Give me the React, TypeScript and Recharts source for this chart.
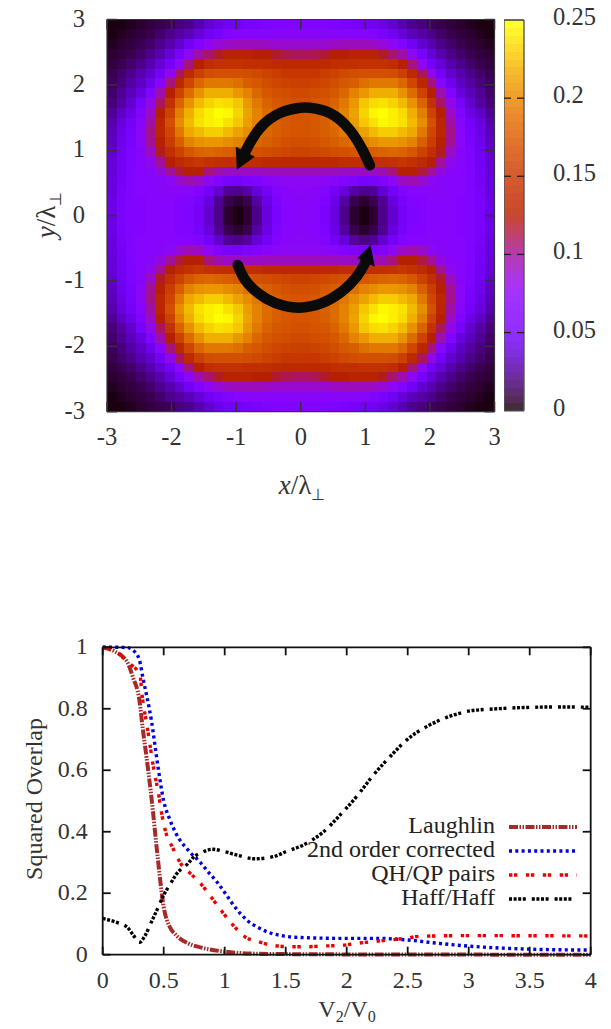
import React from "react";
import { ScatterChart, Scatter, LineChart, Line, XAxis, YAxis, Legend } from "recharts";

// Upper-left quadrant of the density map, in percent of the 0.25 colour range
const quadrantRows: number[][] = [
  [1, 1, 2, 3, 4, 5, 6, 8, 9, 12, 15, 18, 20, 21, 22, 23, 24, 25, 25, 25],
  [1, 2, 3, 4, 5, 7, 9, 11, 13, 16, 20, 23, 25, 27, 28, 28, 28, 28, 28, 28],
  [2, 3, 4, 5, 7, 9, 12, 15, 20, 25, 30, 34, 36, 37, 37, 37, 36, 35, 35, 35],
  [3, 4, 5, 7, 9, 12, 16, 22, 30, 38, 43, 48, 52, 52, 52, 50, 50, 47, 45, 44],
  [4, 5, 7, 9, 12, 16, 21, 30, 42, 50, 56, 58, 58, 58, 57, 57, 56, 55, 55, 55],
  [5, 7, 9, 12, 15, 21, 32, 44, 55, 63, 67, 68, 68, 68, 67, 66, 64, 62, 60, 60],
  [6, 8, 11, 14, 19, 28, 42, 54, 65, 74, 78, 78, 78, 76, 72, 70, 67, 65, 64, 63],
  [7, 10, 13, 17, 25, 38, 50, 64, 75, 83, 88, 88, 88, 84, 80, 74, 70, 68, 67, 66],
  [8, 11, 15, 22, 32, 44, 58, 73, 83, 90, 94, 96, 95, 92, 84, 78, 73, 70, 69, 68],
  [10, 14, 18, 25, 36, 50, 64, 79, 88, 95, 98, 100, 99, 94, 86, 80, 75, 72, 70, 69],
  [12, 17, 21, 27, 39, 53, 68, 82, 90, 96, 98, 99, 96, 92, 85, 80, 75, 72, 70, 69],
  [13, 18, 22, 29, 41, 54, 65, 78, 87, 90, 93, 93, 90, 86, 82, 78, 74, 72, 70, 69],
  [14, 19, 23, 29, 40, 51, 62, 72, 80, 83, 84, 84, 82, 80, 76, 74, 72, 70, 68, 67],
  [15, 20, 24, 28, 36, 48, 57, 64, 70, 73, 74, 73, 72, 70, 69, 68, 67, 66, 65, 64],
  [16, 20, 24, 27, 31, 40, 50, 55, 58, 60, 58, 57, 56, 56, 56, 56, 55, 55, 54, 54],
  [16, 21, 25, 27, 28, 33, 40, 46, 50, 50, 42, 38, 36, 36, 36, 36, 37, 37, 37, 37],
  [17, 21, 25, 27, 27, 28, 30, 35, 38, 36, 30, 26, 23, 22, 24, 26, 28, 29, 30, 30],
  [17, 22, 25, 27, 27, 28, 28, 27, 27, 26, 21, 15, 10, 9, 11, 16, 21, 26, 28, 29],
  [18, 23, 25, 26, 27, 27, 27, 26, 25, 22, 17, 10, 5, 3, 5, 11, 18, 24, 27, 28],
  [18, 23, 25, 26, 27, 27, 27, 26, 24, 21, 15, 9, 3, 1, 3, 9, 17, 23, 27, 28],
];

const colorbarLevels = [
  1, 3, 5, 7, 9, 11, 13, 15, 17, 19, 21, 23, 25, 27, 29, 31, 33, 35, 37, 39, 41, 43, 45, 47, 49,
  51, 53, 55, 57, 59, 61, 63, 65, 67, 69, 71, 73, 75, 77, 79, 81, 83, 85, 87, 89, 91, 93, 95, 97, 99,
];

const arcTop = [
  { x: 1.07, y: 0.77 }, { x: 0.96, y: 1.0 }, { x: 0.76, y: 1.31 }, { x: 0.45, y: 1.57 }, { x: 0.14, y: 1.65 },
  { x: -0.01, y: 1.65 }, { x: -0.32, y: 1.57 }, { x: -0.63, y: 1.34 }, { x: -0.82, y: 1.05 }, { x: -0.88, y: 0.93 },
];
const arcBottom = [
  { x: -0.975, y: -0.755 }, { x: -0.86, y: -0.985 }, { x: -0.656, y: -1.19 }, { x: -0.4, y: -1.336 },
  { x: -0.04, y: -1.408 }, { x: 0.325, y: -1.34 }, { x: 0.635, y: -1.164 }, { x: 0.867, y: -0.934 }, { x: 0.995, y: -0.725 }, { x: 1.03, y: -0.65 },
];
const tipTop = [{ x: -0.99, y: 0.7 }];
const tipBottom = [{ x: 1.08, y: -0.45 }];

const mapTicks = [-3, -2, -1, 0, 1, 2, 3];
const colorTicks = [0, 0.05, 0.1, 0.15, 0.2, 0.25];
const overlapXTicks = [0, 0.5, 1, 1.5, 2, 2.5, 3, 3.5, 4];
const overlapYTicks = [0, 0.2, 0.4, 0.6, 0.8, 1];

const laughlin = [
  [0, 1], [0.1, 0.986], [0.2, 0.953], [0.25, 0.9], [0.3, 0.83], [0.33, 0.73], [0.36, 0.64], [0.4, 0.51], [0.45, 0.32],
  [0.5, 0.155], [0.55, 0.09], [0.6, 0.064], [0.7, 0.037], [0.8, 0.024], [1, 0.01], [1.2, 0.004], [1.5, 0.002], [2, 0.001], [4, 0],
];
const secondOrder = [
  [0, 1], [0.1, 1], [0.2, 0.999], [0.25, 0.99], [0.3, 0.96], [0.33, 0.9], [0.4, 0.76], [0.45, 0.62], [0.5, 0.5], [0.55, 0.44],
  [0.6, 0.395], [0.7, 0.34], [0.8, 0.3], [0.852, 0.275], [0.934, 0.238], [1.016, 0.193], [1.098, 0.148], [1.18, 0.113],
  [1.262, 0.091], [1.344, 0.075], [1.48, 0.061], [1.617, 0.056], [2, 0.053], [2.25, 0.053], [2.5, 0.048], [2.75, 0.037],
  [3, 0.028], [3.5, 0.018], [4, 0.015],
];
const qhQpPairs = [
  [0, 1], [0.1, 0.989], [0.2, 0.953], [0.306, 0.91], [0.32, 0.854], [0.339, 0.8], [0.36, 0.753], [0.4, 0.65], [0.42, 0.6],
  [0.456, 0.528], [0.489, 0.447], [0.516, 0.4], [0.571, 0.35], [0.634, 0.3], [0.73, 0.26], [0.81, 0.228], [0.893, 0.185],
  [0.975, 0.142], [1.06, 0.1], [1.167, 0.058], [1.276, 0.042], [1.4, 0.03], [1.535, 0.026], [1.686, 0.026], [1.78, 0.028],
  [1.95, 0.03], [2.08, 0.037], [2.2, 0.042], [2.35, 0.048], [2.48, 0.053], [2.6, 0.06], [3, 0.062], [4, 0.061],
];
const haffHaff = [
  [0, 0.118], [0.1, 0.107], [0.2, 0.09], [0.25, 0.064], [0.3, 0.04], [0.35, 0.064], [0.4, 0.107], [0.45, 0.15], [0.5, 0.194],
  [0.55, 0.227], [0.6, 0.26], [0.7, 0.297], [0.75, 0.319], [0.8, 0.33], [0.9, 0.343], [1, 0.335], [1.1, 0.324], [1.25, 0.312],
  [1.4, 0.319], [1.5, 0.335], [1.645, 0.357], [1.81, 0.4], [1.945, 0.454], [2.08, 0.514], [2.22, 0.585], [2.355, 0.644],
  [2.49, 0.698], [2.655, 0.742], [2.82, 0.772], [3.01, 0.793], [3.23, 0.8], [3.53, 0.805], [3.75, 0.806], [4, 0.805],
];

const seriesNames = ["Laughlin", "2nd order corrected", "QH/QP pairs", "Haff/Haff"];
const seriesValues = [laughlin, secondOrder, qhQpPairs, haffHaff];
const seriesColors = ["#a52a2a", "#0000e0", "#ee0000", "#000000"];
const seriesDashes = ["9 1.5 1.5 1.5 1.5 1.5", "3 3.3", "3.4 1.6 3.4 8.5", "3 1.6 3 1.6 3 1.6 3 6"];
const seriesWidths = [4, 3.4, 3.4, 3.4];

// ---- derived tables -----
const fullRows = [...quadrantRows, ...[...quadrantRows].reverse()].map((r) => [...r, ...[...r].reverse()]);
const mapCells = fullRows.flatMap((row, i) =>
  row.map((v, j) => ({ x: -3 + (j + 0.5) * 0.15, y: 3 - (i + 0.5) * 0.15, z: v / 100 }))
);
const barCells = colorbarLevels.map((v) => ({ x: 0.5, y: (v / 100) * 0.25, z: v / 100 }));
const toPoints = (arr: number[][]) => arr.map(([x, y]) => ({ x, y }));

const SERIF = "'Liberation Serif', serif";
const INK = "#333";

function palette(t: number): [number, number, number] {
  const r = Math.sqrt(t);
  const g = t * t * t;
  const b = Math.max(0, Math.sin(2 * Math.PI * t));
  return [r * 255, g * 255, b * 255];
}
const rgb = (c: number[]) => `rgb(${c.map((v) => Math.min(255, Math.round(v))).join(",")})`;

const HeatCell = (props: any) => {
  const w = 9.69;
  const h = 9.81;
  return (
    <rect x={props.cx - w / 2} y={props.cy - h / 2} width={w + 0.6} height={h + 0.6}
      fill={rgb(palette(props.payload.z))} shapeRendering="crispEdges" />
  );
};
const BarCell = (props: any) => {
  const w = 20;
  const h = 7.84;
  return (
    <rect x={props.cx - w / 2} y={props.cy - h / 2} width={w} height={h + 0.6}
      fill={rgb(palette(props.payload.z).map((c) => c * 0.85 + 45))} shapeRendering="crispEdges" />
  );
};
const NoDot = () => <g />;
const Tip = (dx1: number, dy1: number, dx2: number, dy2: number) => (props: any) =>
  (
    <polygon points={`${props.cx},${props.cy} ${props.cx + dx1},${props.cy + dy1} ${props.cx + dx2},${props.cy + dy2}`} fill="#0a0a0a" />
  );

type TickOpts = { side: "left" | "right" | "top" | "bottom"; len: number; labels?: boolean; size?: number; stroke?: string; gap?: number; sw?: number };
const makeTick = ({ side, len, labels, size = 24.5, stroke = "#222", gap = 22, sw = 1.5 }: TickOpts) => (props: any) => {
  const { x, y, payload } = props;
  const v = payload.value;
  const inward =
    side === "left" ? { x2: x + len, y2: y } : side === "right" ? { x2: x - len, y2: y } : side === "top" ? { x2: x, y2: y + len } : { x2: x, y2: y - len };
  let text = null;
  if (labels) {
    const base = { fontFamily: SERIF, fontSize: size, fill: INK };
    if (side === "left") text = <text {...base} x={x - gap} y={y + 7} textAnchor="end">{String(v)}</text>;
    if (side === "bottom") text = <text {...base} x={x} y={y + 33} textAnchor="middle">{String(v)}</text>;
  }
  return (
    <g>
      <line x1={x} y1={y} x2={inward.x2} y2={inward.y2} stroke={stroke} strokeWidth={sw} fill="none" />
      {text}
    </g>
  );
};

const ColorTick = (side: "left" | "right") => (props: any) => {
  const { x, y, payload } = props;
  const v = payload.value;
  const interior = v > 0 && v < 0.25;
  return (
    <g>
      {interior && <line x1={x} y1={y} x2={side === "left" ? x + 7 : x - 7} y2={y} stroke="#222" strokeWidth={1.3} />}
      {side === "right" && (
        <text x={x + 29} y={y + 5} fontFamily={SERIF} fontSize={24.5} fill={INK}>{v}</text>
      )}
    </g>
  );
};

const mapTickLeft = makeTick({ side: "left", len: 10, labels: true, stroke: "#333" });
const mapTickRight = makeTick({ side: "right", len: 10, stroke: "#333" });
const mapTickTop = makeTick({ side: "top", len: 10, stroke: "#333" });
const mapTickBottom = makeTick({ side: "bottom", len: 10, labels: true, stroke: "#333" });

const plotTick = (side: TickOpts["side"], labels = false) => makeTick({ side, len: 8, labels, size: 24, stroke: "#111", gap: 15, sw: 1.8 });

const MathLabel = ({ cx, cy, rotate, v }: { cx: number; cy: number; rotate?: boolean; v: string }) => (
  <text transform={rotate ? `rotate(-90 ${cx} ${cy})` : undefined} x={cx} y={cy} textAnchor="middle" fontFamily={SERIF} fontSize={27} fill={INK}>
    <tspan fontStyle="italic">{v}</tspan>
    <tspan>/λ</tspan>
    <tspan fontSize={16} dy={6}>⊥</tspan>
  </text>
);

const LegendBox = (props: any) => {
  const payload: any[] = props.payload || [];
  return (
    <svg width={611} height={429} style={{ display: "block" }}>
      {seriesNames.map((n, i) => {
        const item = payload.find((p) => p.value === n);
        const y = 227 + i * 24;
        return (
          <g key={n}>
            <text x={495} y={y + 6} textAnchor="end" fontFamily={SERIF} fontSize={24} fill="#222">{n}</text>
            <line x1={509} x2={577} y1={y} y2={y} stroke={item ? item.color : seriesColors[i]} strokeWidth={seriesWidths[i]} strokeDasharray={seriesDashes[i]} />
          </g>
        );
      })}
    </svg>
  );
};

const frame = { stroke: "#333", strokeWidth: 1.2 };
const mapMargin = { left: 47, right: 4.5, top: 18.5, bottom: 48.3 };
const barMargin = { left: -1, right: 86.5, top: 19, bottom: 28.3 };
const blank = { tick: false, tickLine: false, axisLine: false } as const;

export default function App() {
  return (
    <div style={{ position: "absolute", left: 0, top: 0, width: 611, height: 1029, background: "#fff" }}>
      <div style={{ position: "absolute", left: 0, top: 0 }}>
        <ScatterChart width={500} height={510} margin={mapMargin}>
          <Scatter data={mapCells} dataKey="y" shape={HeatCell} isAnimationActive={false} />
          <XAxis type="number" dataKey="x" domain={[-3, 3]} ticks={mapTicks} height={50} {...blank} />
          <XAxis xAxisId="top" orientation="top" type="number" domain={[-3, 3]} height={1} {...blank} />
          <YAxis type="number" dataKey="y" domain={[-3, 3]} ticks={mapTicks} width={60} {...blank} />
          <YAxis yAxisId="right" orientation="right" type="number" domain={[-3, 3]} width={1} {...blank} />
        </ScatterChart>
      </div>
      <div style={{ position: "absolute", left: 0, top: 0 }}>
        <ScatterChart width={500} height={510} margin={mapMargin}>
          <Scatter data={arcTop} shape={NoDot} line={{ stroke: "#0a0a0a", strokeWidth: 10.5, strokeLinecap: "round" }} lineJointType="natural" isAnimationActive={false} />
          <Scatter data={arcBottom} shape={NoDot} line={{ stroke: "#0a0a0a", strokeWidth: 10.5, strokeLinecap: "round" }} lineJointType="natural" isAnimationActive={false} />
          <Scatter data={tipTop} shape={Tip(-1, -23, 18, -13)} isAnimationActive={false} />
          <Scatter data={tipBottom} shape={Tip(-13.3, 13.3, 4.3, 21.7)} isAnimationActive={false} />
          <Scatter data={tipTop} xAxisId="top" yAxisId="right" shape={NoDot} isAnimationActive={false} />
          <XAxis type="number" dataKey="x" domain={[-3, 3]} ticks={mapTicks} height={50} tickSize={0} tickMargin={0} tickLine={false} axisLine={frame} tick={mapTickBottom} interval={0}
            label={{ content: () => <MathLabel cx={302} cy={494} v="x" /> }} />
          <XAxis xAxisId="top" orientation="top" type="number" dataKey="x" domain={[-3, 3]} ticks={mapTicks} height={1} tickSize={0} tickMargin={0} tickLine={false} axisLine={frame} tick={mapTickTop} interval={0} />
          <YAxis type="number" dataKey="y" domain={[-3, 3]} ticks={mapTicks} width={60} tickSize={0} tickMargin={0} tickLine={false} axisLine={frame} tick={mapTickLeft} interval={0}
            label={{ content: () => <MathLabel cx={55} cy={215} rotate v="y" /> }} />
          <YAxis yAxisId="right" orientation="right" type="number" dataKey="y" domain={[-3, 3]} ticks={mapTicks} width={1} tickSize={0} tickMargin={0} tickLine={false} axisLine={frame} tick={mapTickRight} interval={0} />
        </ScatterChart>
      </div>

      <div style={{ position: "absolute", left: 503.5, top: 0 }}>
        <ScatterChart width={107.5} height={440} margin={barMargin}>
          <Scatter data={barCells} dataKey="y" shape={BarCell} isAnimationActive={false} />
          <XAxis type="number" dataKey="x" domain={[0, 1]} height={1} {...blank} />
          <YAxis type="number" dataKey="y" domain={[0, 0.25]} width={1} {...blank} />
          <XAxis xAxisId="top" orientation="top" type="number" domain={[0, 1]} height={1} {...blank} />
          <YAxis yAxisId="right" orientation="right" type="number" domain={[0, 0.25]} width={1} {...blank} />
        </ScatterChart>
      </div>
      <div style={{ position: "absolute", left: 503.5, top: 0 }}>
        <ScatterChart width={107.5} height={440} margin={barMargin}>
          <Scatter data={barCells} shape={NoDot} isAnimationActive={false} />
          <Scatter data={barCells} xAxisId="top" yAxisId="right" shape={NoDot} isAnimationActive={false} />
          <XAxis type="number" dataKey="x" domain={[0, 1]} ticks={[0, 1]} height={1} tick={false} tickLine={false} axisLine={{ stroke: "#444", strokeWidth: 1.6 }} />
          <XAxis xAxisId="top" orientation="top" type="number" dataKey="x" domain={[0, 1]} ticks={[0, 1]} height={1} tick={false} tickLine={false} axisLine={{ stroke: "#444", strokeWidth: 1.6 }} />
          <YAxis type="number" dataKey="y" domain={[0, 0.25]} ticks={colorTicks} width={1} tickSize={0} tickMargin={0} tickLine={false} axisLine={{ stroke: "#555", strokeWidth: 1.4 }} tick={ColorTick("left")} interval={0} />
          <YAxis yAxisId="right" orientation="right" type="number" dataKey="y" domain={[0, 0.25]} ticks={colorTicks} width={1} tickSize={0} tickMargin={0} tickLine={false} axisLine={{ stroke: "#555", strokeWidth: 1.4 }} tick={ColorTick("right")} interval={0} />
        </ScatterChart>
      </div>

      <div style={{ position: "absolute", left: 0, top: 600 }}>
        <LineChart width={611} height={429} margin={{ left: 42.7, right: 19.3, top: 46.3, bottom: 24.3 }}>
          {seriesNames.map((n, i) => (
            <Line key={n} data={toPoints(seriesValues[i])} dataKey="y" name={n} type="monotone" stroke={seriesColors[i]} strokeWidth={seriesWidths[i]} strokeDasharray={seriesDashes[i]} dot={false} isAnimationActive={false} />
          ))}
          <Line data={toPoints(haffHaff)} dataKey="y" xAxisId="top" yAxisId="right" stroke="none" dot={false} legendType="none" isAnimationActive={false} />
          <XAxis type="number" dataKey="x" domain={[0, 4]} ticks={overlapXTicks} height={50} tickSize={0} tickMargin={0} tickLine={false} axisLine={{ stroke: "#111", strokeWidth: 1.8 }} tick={plotTick("bottom", true)} interval={0}
            label={{ content: () => (
              <text x={347} y={417} textAnchor="middle" fontFamily={SERIF} fontSize={24} fill={INK}>
                V<tspan fontSize={16} dy={5}>2</tspan><tspan dy={-5}>/V</tspan><tspan fontSize={16} dy={5}>0</tspan>
              </text>
            ) }} />
          <XAxis xAxisId="top" orientation="top" type="number" dataKey="x" domain={[0, 4]} ticks={overlapXTicks} height={1} tickSize={0} tickMargin={0} tickLine={false} axisLine={{ stroke: "#111", strokeWidth: 1.8 }} tick={plotTick("top")} interval={0} />
          <YAxis type="number" domain={[0, 1]} ticks={overlapYTicks} width={60} tickSize={0} tickMargin={0} tickLine={false} axisLine={{ stroke: "#111", strokeWidth: 1.8 }} tick={plotTick("left", true)} interval={0}
            label={{ content: () => (
              <text transform="rotate(-90 42 199)" x={42} y={199} textAnchor="middle" fontFamily={SERIF} fontSize={24} fill={INK}>Squared Overlap</text>
            ) }} />
          <YAxis yAxisId="right" orientation="right" type="number" domain={[0, 1]} ticks={overlapYTicks} width={1} tickSize={0} tickMargin={0} tickLine={false} axisLine={{ stroke: "#111", strokeWidth: 1.8 }} tick={plotTick("right")} interval={0} />
          <Legend layout="horizontal" verticalAlign="middle" content={LegendBox} wrapperStyle={{ left: 0, top: 0, width: 611, height: 429, pointerEvents: "none" }} />
        </LineChart>
      </div>
    </div>
  );
}
